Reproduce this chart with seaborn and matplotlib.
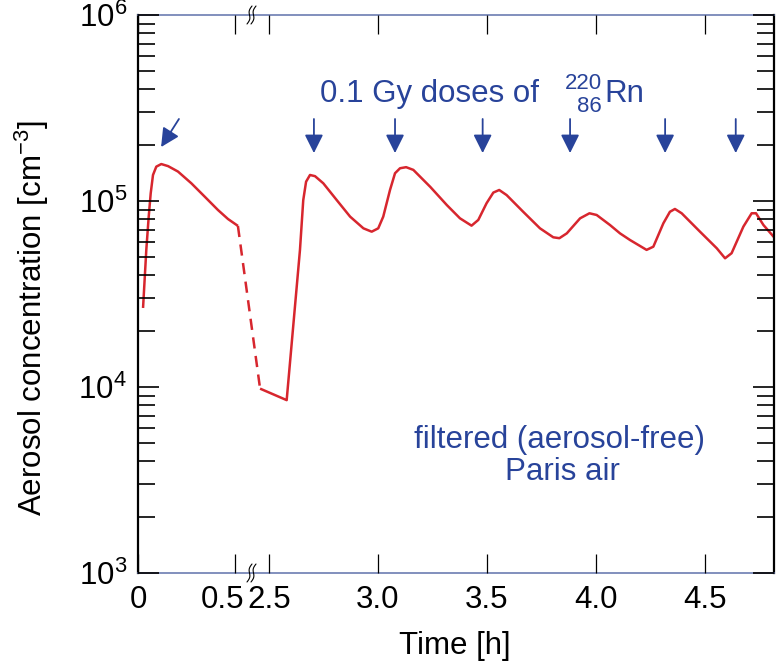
import numpy as np
import pandas as pd
import matplotlib
matplotlib.use("Agg")
import matplotlib.pyplot as plt
import matplotlib.transforms as mtransforms
from matplotlib.lines import Line2D
from matplotlib.ticker import NullLocator
import seaborn as sns

# ---------------- data ----------------
seg1_time = [0.026, 0.0428, 0.0552, 0.0655, 0.0773, 0.0943, 0.120, 0.155,
             0.206, 0.275, 0.344, 0.412, 0.464, 0.515]
seg1_conc = [2.66e4, 5.46e4, 8.24e4, 1.10e5, 1.38e5, 1.53e5, 1.58e5, 1.54e5,
             1.44e5, 1.245e5, 1.055e5, 8.95e4, 8.0e4, 7.35e4]

gap_time = [0.515, 2.459]
gap_conc = [7.35e4, 9.8e3]

seg2_time = [2.459, 2.581, 2.642, 2.657, 2.670, 2.688, 2.711, 2.749, 2.811,
             2.872, 2.933, 2.971, 3.001, 3.024, 3.055, 3.078, 3.101, 3.129,
             3.162, 3.240, 3.316, 3.376, 3.429, 3.460, 3.498, 3.529, 3.556,
             3.590, 3.666, 3.743, 3.804, 3.832, 3.866, 3.927, 3.970, 4.003,
             4.064, 4.110, 4.156, 4.232, 4.263, 4.309, 4.339, 4.362, 4.393,
             4.477, 4.554, 4.592, 4.622, 4.676, 4.714, 4.734, 4.768, 4.821]
seg2_conc = [9.8e3, 8.5e3, 5.46e4, 1.01e5, 1.27e5, 1.38e5, 1.36e5, 1.245e5,
             1.01e5, 8.24e4, 7.13e4, 6.84e4, 7.13e4, 8.24e4, 1.146e5, 1.41e5,
             1.50e5, 1.52e5, 1.47e5, 1.19e5, 9.5e4, 8.07e4, 7.37e4, 7.91e4,
             9.73e4, 1.11e5, 1.146e5, 1.076e5, 8.75e4, 7.13e4, 6.38e4, 6.31e4,
             6.70e4, 8.07e4, 8.59e4, 8.41e4, 7.43e4, 6.70e4, 6.17e4, 5.46e4,
             5.68e4, 7.59e4, 8.75e4, 9.06e4, 8.59e4, 6.84e4, 5.57e4, 4.92e4,
             5.24e4, 7.28e4, 8.59e4, 8.59e4, 7.43e4, 6.30e4]

first_arrow_tip = (0.119, 1.95e5)
first_arrow_tail = (0.211, 2.76e5)
dose_times = [2.706, 3.078, 3.480, 3.881, 4.317, 4.641]
arrow_tip_conc = 1.81e5
arrow_tail_conc = 2.76e5

xtick_values = [0, 0.5, 2.5, 3.0, 3.5, 4.0, 4.5]
xtick_labels = ["0", "0.5", "2.5", "3.0", "3.5", "4.0", "4.5"]

# ---------------- style ----------------
sns.set_theme(style="ticks")
plt.rcParams["font.family"] = ["Liberation Sans", "DejaVu Sans"]
plt.rcParams["mathtext.fontset"] = "custom"
plt.rcParams["mathtext.rm"] = "Liberation Sans"
plt.rcParams["mathtext.it"] = "Liberation Sans:italic"
plt.rcParams["mathtext.bf"] = "Liberation Sans:bold"

RED = "#d7262e"
BLUE = "#28439a"
SPINE_BLUE = "#5f72ab"
FS = 22.5

W, H = 777, 668
fig = plt.figure(figsize=(W / 100, H / 100), dpi=100)
L, R, T, B = 138, 774, 15, 573
ax = fig.add_axes([L / W, 1 - B / H, (R - L) / W, (B - T) / H])

# broken time axis as a piecewise-linear scale
K1, K2 = 194.0, 218.0
TB1, TB2 = 0.5928, 2.4266
EPS = 0.01
U1 = K1 * TB1
U2 = U1 + EPS * (TB2 - TB1)


def fwd(t):
    t = np.asarray(t, float)
    return np.where(t <= TB1, K1 * t,
                    np.where(t >= TB2, U2 + K2 * (t - TB2), U1 + EPS * (t - TB1)))


def inv(u):
    u = np.asarray(u, float)
    return np.where(u <= U1, u / K1,
                    np.where(u >= U2, TB2 + (u - U2) / K2, TB1 + (u - U1) / EPS))


ax.set_xscale("function", functions=(fwd, inv))
ax.set_yscale("log")

df1 = pd.DataFrame({"time": seg1_time, "conc": seg1_conc})
dfg = pd.DataFrame({"time": gap_time, "conc": gap_conc})
df2 = pd.DataFrame({"time": seg2_time, "conc": seg2_conc})
LW = 1.8
sns.lineplot(data=df1, x="time", y="conc", ax=ax, color=RED, lw=LW,
             estimator=None, sort=False)
sns.lineplot(data=dfg, x="time", y="conc", ax=ax, color=RED, lw=LW,
             estimator=None, sort=False)
ax.lines[-1].set_dashes((4.5, 3))
sns.lineplot(data=df2, x="time", y="conc", ax=ax, color=RED, lw=LW,
             estimator=None, sort=False)
for ln in ax.lines:
    ln.set_solid_joinstyle("round")
    ln.set_solid_capstyle("butt")

ax.set_xlim(0, 4.8165)
ax.set_ylim(1e3, 1e6)
ax.set_xticks(xtick_values)
ax.set_xticklabels(xtick_labels)
ax.xaxis.set_minor_locator(NullLocator())

ax.tick_params(axis="x", which="major", direction="in", length=13.5, width=0.9,
               color="black", top=True, bottom=True, labelsize=FS, pad=9,
               labelcolor="black")
ax.tick_params(axis="y", which="major", direction="in", length=15, width=1.2,
               color="black", left=True, right=True, labelsize=FS, pad=8,
               labelcolor="black")
ax.tick_params(axis="y", which="minor", direction="in", length=12, width=1.2,
               color="black", left=True, right=True)

ax.set_axisbelow(False)
for s in ["left", "right"]:
    ax.spines[s].set_color("black")
    ax.spines[s].set_linewidth(1.6)
    ax.spines[s].set_zorder(2.4)
for s in ["top", "bottom"]:
    ax.spines[s].set_color(SPINE_BLUE)
    ax.spines[s].set_linewidth(1.1)
    ax.spines[s].set_zorder(2.4)

# shift "0.5" label left so it does not crowd "2.5"
lab = ax.get_xticklabels()[1]
lab.set_transform(lab.get_transform() +
                  mtransforms.ScaledTranslation(-12 / 100, 0, fig.dpi_scale_trans))

ax.set_xlabel("Time [h]", fontsize=FS, color="black")
ax.xaxis.set_label_coords(0.498, -0.104)
ax.set_ylabel("Aerosol concentration [cm$^{-3}$]", fontsize=FS, color="black")
ax.yaxis.set_label_coords(-0.137, 0.457)

# dose arrows
ap = dict(arrowstyle="-|>", color=BLUE, lw=1.3, mutation_scale=28,
          shrinkA=0, shrinkB=0)
ax.annotate("", xy=first_arrow_tip, xytext=first_arrow_tail, arrowprops=ap)
for t in dose_times:
    ax.annotate("", xy=(t, arrow_tip_conc), xytext=(t, arrow_tail_conc),
                arrowprops=ap)


def px(x, y):
    return x / W, 1 - y / H


fig.text(*px(320, 101.7), "0.1 Gy doses of", fontsize=FS, color=BLUE,
         ha="left", va="baseline")
fig.text(*px(602, 89.3), "220", fontsize=16, color=BLUE, ha="right", va="baseline")
fig.text(*px(602, 111.7), "86", fontsize=16, color=BLUE, ha="right", va="baseline")
fig.text(*px(604, 101.7), "Rn", fontsize=FS, color=BLUE, ha="left", va="baseline")
fig.text(*px(560, 448.3), "filtered (aerosol-free)", fontsize=FS, color=BLUE,
         ha="center", va="baseline")
fig.text(*px(562, 480), "Paris air", fontsize=FS, color=BLUE,
         ha="center", va="baseline")

# axis-break marks
s = np.linspace(0, 1, 30)
for yc in (T, B):
    for dx in (-3.5, 0.5):
        xs = 253 + dx - 2.5 + 5 * s + 1.4 * np.sin(2 * np.pi * s)
        ys = (H - yc) - 9 + 18 * s
        fig.add_artist(Line2D(xs, ys, transform=mtransforms.IdentityTransform(),
                              color="black", lw=0.8, zorder=5))

fig.savefig("out.png", dpi=100)
